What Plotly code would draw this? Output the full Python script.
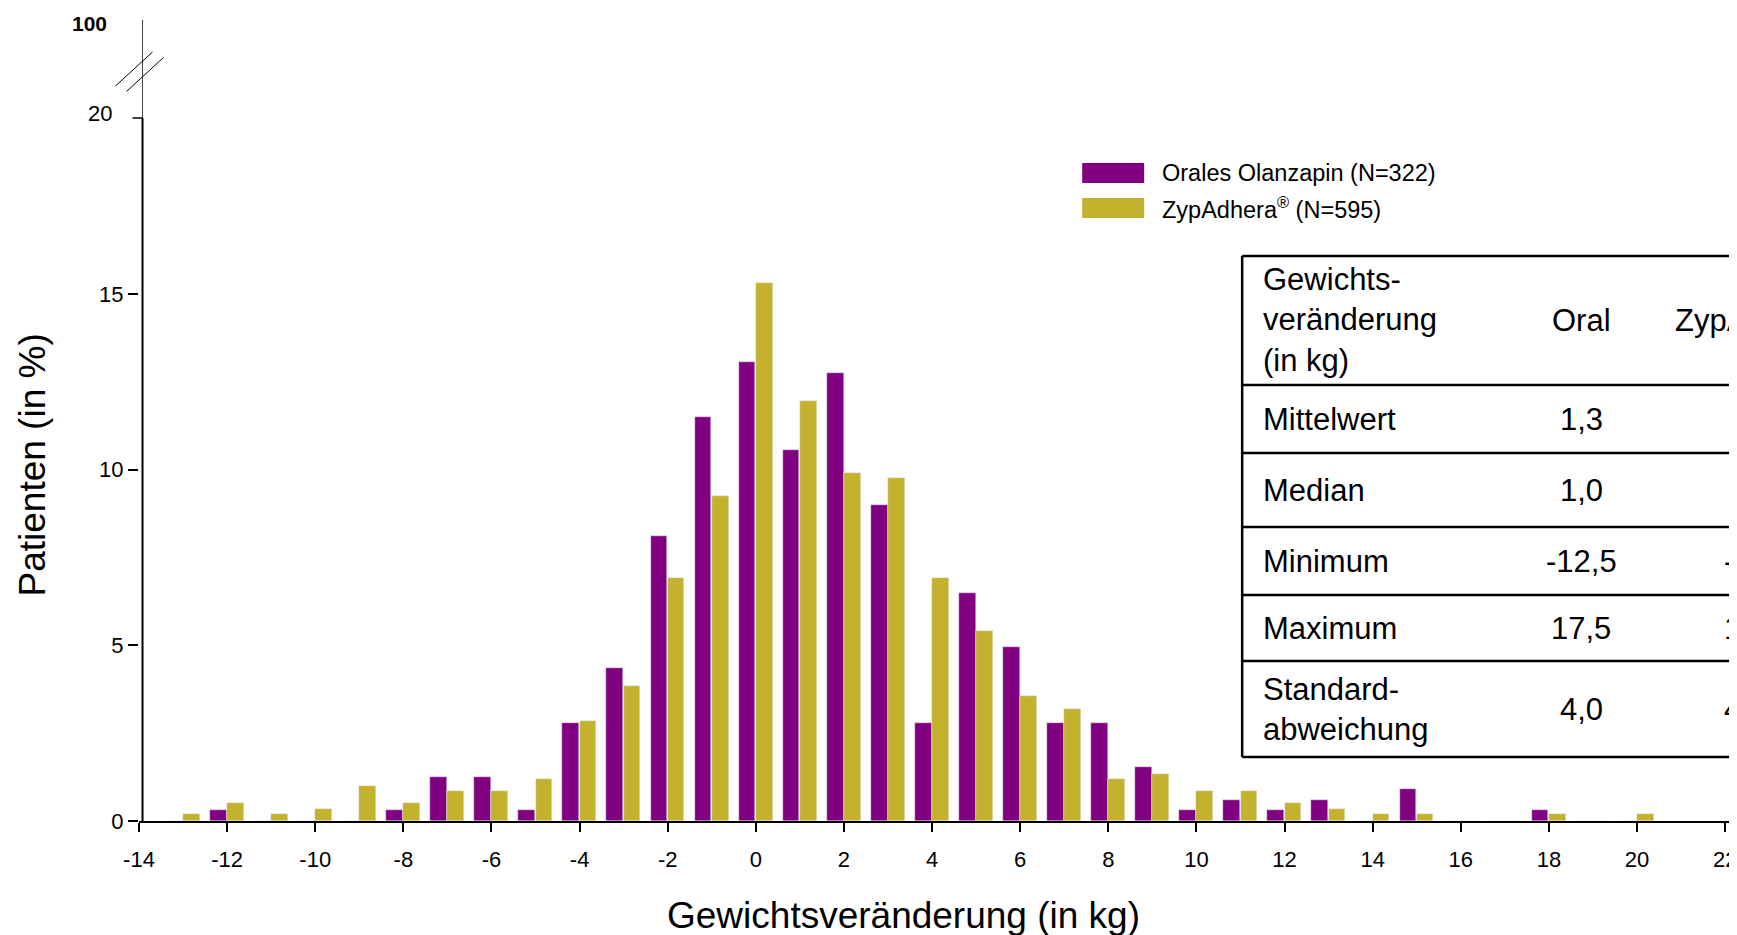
import plotly.graph_objects as go

kg = list(range(-13, 21))
oral = [0, 0.3, 0, 0, 0, 0.3, 1.25, 1.25, 0.3, 2.8, 4.35, 8.1, 11.5, 13.05, 10.55, 12.75, 9.0,
        2.8, 6.5, 4.95, 2.8, 2.8, 1.55, 0.3, 0.6, 0.3, 0.6, 0, 0.9, 0, 0, 0.3, 0, 0]
zyp = [0.2, 0.5, 0.2, 0.35, 1.0, 0.5, 0.85, 0.85, 1.2, 2.85, 3.85, 6.9, 9.25, 15.3, 11.95, 9.9, 9.75,
       6.9, 5.4, 3.55, 3.2, 1.2, 1.35, 0.85, 0.85, 0.5, 0.35, 0.2, 0.2, 0, 0, 0.2, 0, 0.2]
x_ticks = list(range(-14, 23, 2))

legend_names = ["Orales Olanzapin (N=322)", "ZypAdhera<sup>®</sup> (N=595)"]
table_rows = ["Gewichts-<br>veränderung<br>(in kg)", "Mittelwert", "Median", "Minimum", "Maximum",
              "Standard-<br>abweichung"]
table_oral = ["Oral", "1,3", "1,0", "-12,5", "17,5", "4,0"]
table_zyp = ["ZypAdhera", "", "", "-13,0", "19,0", "4,0"]

PURPLE = "#800080"
OLIVE = "#C4B12E"
W, H = 1737, 935
SH = 8  # offset correction
L, R, T, B = 138.5 - SH, 0, 20 - SH, 114 + SH
FONT = "Liberation Sans, Arial, sans-serif"


def px(x):
    return (x - SH - L) / (W - L - R)


def py(y):
    return 1 - (y - SH - T) / (H - T - B)


fig = go.Figure()
fig.add_trace(go.Bar(x=kg, y=oral, offset=-0.39, width=0.38, marker_color=PURPLE, showlegend=False))
fig.add_trace(go.Bar(x=kg, y=zyp, offset=0.0, width=0.38, marker_color=OLIVE, showlegend=False))

shapes = []
# y axis line with break
shapes.append(dict(type="line", xref="x", yref="y", x0=-13.92, x1=-13.92, y0=0, y1=20,
                   line=dict(color="black", width=2)))
shapes.append(dict(type="line", xref="x", yref="paper", x0=-13.92, x1=-13.92, y0=py(118), y1=1,
                   line=dict(color="#444", width=1)))
for dx in (0, 11):
    shapes.append(dict(type="line", xref="paper", yref="paper", x0=px(115 + dx), y0=py(86 + dx * 0.5),
                       x1=px(152 + dx), y1=py(52 + dx * 0.5), line=dict(color="black", width=1)))
shapes.append(dict(type="line", xref="paper", yref="paper", x0=px(132), x1=px(142), y0=py(118), y1=py(118),
                   line=dict(color="black", width=1.5)))

annotations = [
    dict(text="<b>100</b>", xref="paper", yref="paper", x=px(108), y=py(23),
         xanchor="right", yanchor="middle", showarrow=False, font=dict(size=21, color="black")),
    dict(text="20", xref="paper", yref="paper", x=px(113), y=py(113),
         xanchor="right", yanchor="middle", showarrow=False, font=dict(size=22, color="black")),
    dict(text="Gewichtsveränderung (in kg)", xref="paper", yref="paper", x=px(903), y=py(915),
         xanchor="center", yanchor="middle", showarrow=False, font=dict(size=37, color="black")),
    dict(text="Patienten (in %)", xref="paper", yref="paper", x=px(31), y=py(465), textangle=-90,
         xanchor="center", yanchor="middle", showarrow=False, font=dict(size=37, color="black")),
]

# legend
for i, (name, col) in enumerate(zip(legend_names, [PURPLE, OLIVE])):
    yc = 173 + i * 35
    shapes.append(dict(type="rect", xref="paper", yref="paper", x0=px(1082), x1=px(1144),
                       y0=py(yc - 10), y1=py(yc + 10), fillcolor=col, line=dict(width=0)))
    annotations.append(dict(text=name, xref="paper", yref="paper", x=px(1160), y=py(yc),
                            xanchor="left", yanchor="middle", showarrow=False,
                            font=dict(size=23.5, color="black")))

# table
row_lines = [256, 385, 453, 527, 595, 661, 757]
shapes.append(dict(type="line", xref="paper", yref="paper", x0=px(1242), x1=px(1242),
                   y0=py(256), y1=py(757), line=dict(color="black", width=2.5)))
for yl in row_lines:
    shapes.append(dict(type="line", xref="paper", yref="paper", x0=px(1242), x1=px(1760),
                       y0=py(yl), y1=py(yl), line=dict(color="black", width=2.5)))
for i in range(len(table_rows)):
    yc = (row_lines[i] + row_lines[i + 1]) / 2
    annotations.append(dict(text=table_rows[i], xref="paper", yref="paper", x=px(1261), y=py(yc),
                            xanchor="left", yanchor="middle", align="left", showarrow=False,
                            font=dict(size=31, color="black")))
    annotations.append(dict(text=table_oral[i], xref="paper", yref="paper", x=px(1581), y=py(yc),
                            xanchor="center", yanchor="middle", showarrow=False,
                            font=dict(size=31, color="black")))
    if table_zyp[i]:
        annotations.append(dict(text=table_zyp[i], xref="paper", yref="paper",
                                x=px(1722) if i else px(1673), y=py(yc),
                                xanchor="left", yanchor="middle",
                                showarrow=False, font=dict(size=31, color="black")))

fig.update_layout(
    width=W, height=H,
    margin=dict(l=L, r=R, t=T, b=B, autoexpand=False),
    plot_bgcolor="white", paper_bgcolor="white",
    font=dict(family=FONT, color="black"),
    bargap=0,
    shapes=shapes,
    annotations=annotations,
    xaxis=dict(range=[-14, 22.45], tickvals=x_ticks, ticktext=[str(v) for v in x_ticks],
               showgrid=False, zeroline=False, showline=True, linecolor="black", linewidth=2,
               ticks="outside", ticklen=9, tickwidth=1.5, tickcolor="black",
               tickfont=dict(size=22), ticklabelstandoff=9),
    yaxis=dict(range=[0, 22.79], tickvals=[0, 5, 10, 15], showgrid=False, zeroline=False,
               showline=False, ticks="outside", ticklen=10, tickwidth=1.5, tickcolor="black",
               tickfont=dict(size=22)),
)

fig.write_html("out.html")
